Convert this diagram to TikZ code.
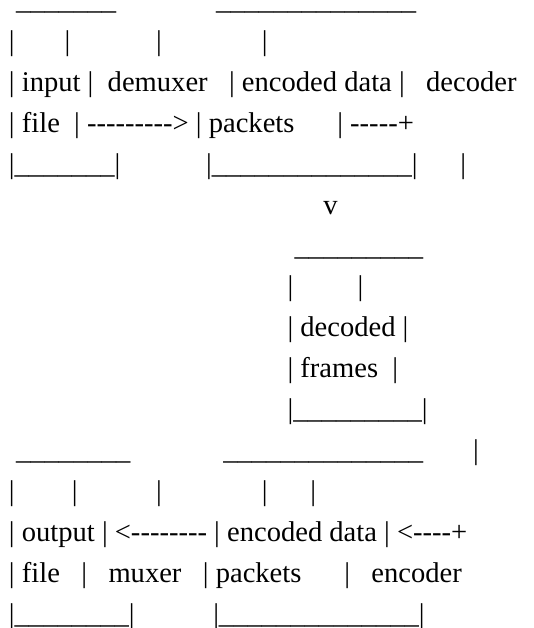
\documentclass[tikz,border=0pt]{standalone}
\usepackage{fontspec}
\setmainfont{Liberation Serif}[Ligatures=TeXOff]

% n blanks of the current font, and a run of n underscores
\newcommand\gap[1]{\hskip#1\fontdimen2\font\relax}
\newcommand\under[1]{\foreach\k in {1,...,#1}{\_}}

\begin{document}
\begin{tikzpicture}[x=1pt, y=-1pt, font=\fontsize{28.57pt}{41pt}\selectfont]
	\tikzset{row/.style = {anchor=base west, inner sep=0pt, outer sep=0pt}}
	\useasboundingbox (0,0) rectangle (534,628);
	
	% input file -> demuxer -> encoded packets
	\node[row]  (r1) at (9,   9.30) {\gap{1}\under{7}\gap{14}\under{14}};
	\node[row]  (r2) at (9,  50.25) {|\gap{7}|\gap{12}|\gap{14}|};
	\node[row]  (r3) at (9,  91.20) {| input |\gap{2}demuxer\gap{3}| encoded data |\gap{3}decoder};
	\node[row]  (r4) at (9, 132.15) {| file\gap{2}| ---------> | packets\gap{6}| -----+};
	\node[row]  (r5) at (9, 173.10) {|\under{7}|\gap{12}|\under{14}|\gap{6}|};
	\node[row]  (r6) at (9, 214.05) {\gap{44}v};
	
	% decoded frames
	\node[row]  (r7) at (9, 255.00) {\gap{40}\under{9}};
	\node[row]  (r8) at (9, 295.95) {\gap{39}|\gap{9}|};
	\node[row]  (r9) at (9, 336.90) {\gap{39}| decoded |};
	\node[row] (r10) at (9, 377.85) {\gap{39}| frames\gap{2}|};
	\node[row] (r11) at (9, 418.80) {\gap{39}|\under{9}|};
	
	% encoder -> encoded packets -> muxer -> output file
	\node[row] (r12) at (9, 459.75) {\gap{1}\under{8}\gap{13}\under{14}\gap{7}|};
	\node[row] (r13) at (9, 500.70) {|\gap{8}|\gap{11}|\gap{14}|\gap{6}|};
	\node[row] (r14) at (9, 541.65) {| output | <-------- | encoded data | <----+};
	\node[row] (r15) at (9, 582.60) {| file\gap{3}|\gap{3}muxer\gap{3}| packets\gap{6}|\gap{3}encoder};
	\node[row] (r16) at (9, 623.55) {|\under{8}|\gap{11}|\under{14}|};
\end{tikzpicture}
\end{document}
